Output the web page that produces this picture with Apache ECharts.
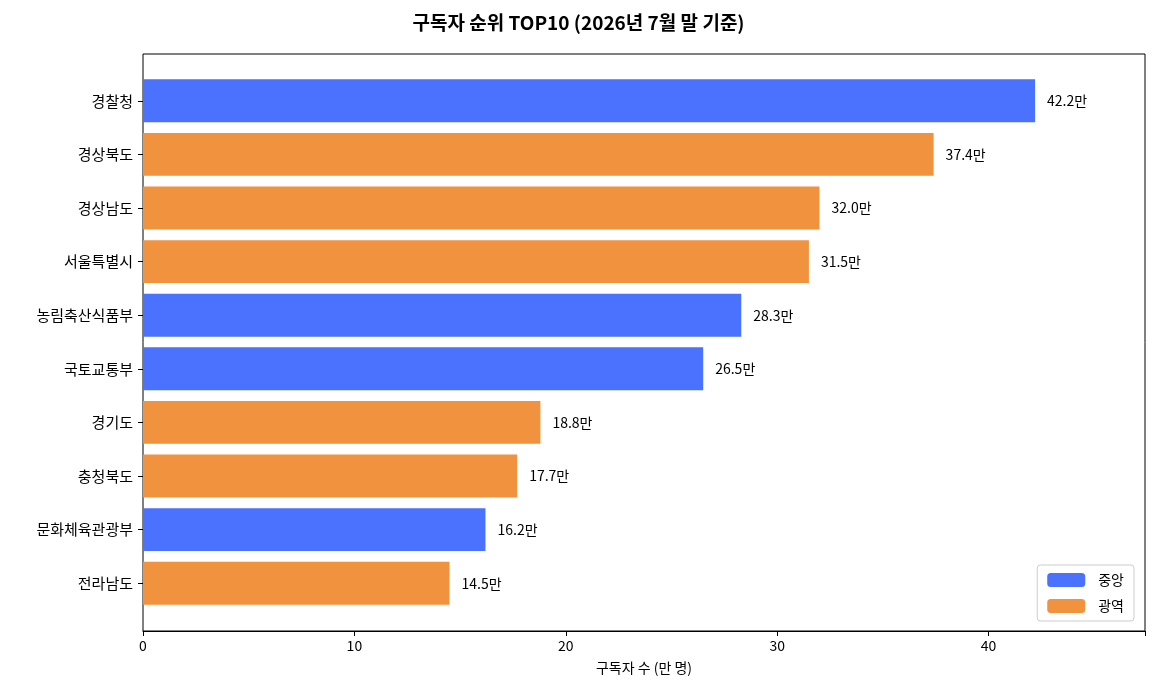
<!DOCTYPE html>
<html><head><meta charset="utf-8">
<script src="https://cdn.jsdelivr.net/npm/echarts@6/dist/echarts.min.js"></script>
<style>body{margin:0;background:#fff}#c{width:1157px;height:700px}</style>
</head><body><div id="c"></div>
<script>
// 데이터
const names = ['경찰청','경상북도','경상남도','서울특별시','농림축산식품부','국토교통부','경기도','충청북도','문화체육관광부','전라남도'];
const subs = [42.2,37.4,32.0,31.5,28.3,26.5,18.8,17.7,16.2,14.5];
const kinds = ['중앙','광역','광역','광역','중앙','중앙','광역','광역','중앙','광역'];
const xTicks = [0,10,20,30,40];

const font = '"Noto Sans CJK KR", sans-serif';
const chart = echarts.init(document.getElementById('c'));
const pick = k => subs.map((v, i) => kinds[i] === k ? v : null);
const lbl = {show: true, position: 'right', distance: 12, fontSize: 14, color: '#000', fontFamily: font, formatter: p => p.value.toFixed(1) + '만'};

chart.setOption({
    textStyle: {fontFamily: font},
    title: {text: '구독자 순위 TOP10 (2026년 7월 말 기준)', left: 'center', top: 8,
        textStyle: {fontSize: 19, fontWeight: 'bold', color: '#000', fontFamily: font}},
    legend: {right: 23, bottom: 79, orient: 'vertical', itemWidth: 38, itemHeight: 14, itemGap: 12,
        borderColor: '#ccc', borderWidth: 1, borderRadius: 3, padding: [8, 10],
        textStyle: {fontSize: 14, color: '#000', padding: [0, 0, 0, 8]}, data: ['중앙', '광역']},
    grid: [
        {left: 143, right: 12, top: 54, bottom: 69, show: true, borderColor: '#000', borderWidth: 1},
        {left: 143, right: 12, top: 74, bottom: 90}
    ],
    xAxis: [
        {gridIndex: 0, type: 'value', min: 0, max: 47.4, interval: 10,
            axisLabel: {fontSize: 14, color: '#000', formatter: v => xTicks.includes(v) ? v : ''},
            axisTick: {show: true, length: 5, lineStyle: {color: '#000'}},
            axisLine: {show: true, lineStyle: {color: '#000'}},
            splitLine: {show: false},
            name: '구독자 수 (만 명)', nameLocation: 'middle', nameGap: 30,
            nameTextStyle: {fontSize: 14, color: '#000'}},
        {gridIndex: 1, type: 'value', min: 0, max: 47.4, show: false}
    ],
    yAxis: [
        {gridIndex: 0, type: 'value', show: false},
        {gridIndex: 1, type: 'category', data: names, inverse: true,
            axisLabel: {fontSize: 15, color: '#000', margin: 10},
            axisTick: {show: true, alignWithLabel: true, length: 5, lineStyle: {color: '#000'}},
            axisLine: {show: false}}
    ],
    series: [
        {name: '중앙', type: 'bar', stack: 's', xAxisIndex: 1, yAxisIndex: 1, data: pick('중앙'),
            barWidth: '80%', itemStyle: {color: '#4A72FF'}, label: lbl},
        {name: '광역', type: 'bar', stack: 's', xAxisIndex: 1, yAxisIndex: 1, data: pick('광역'),
            barWidth: '80%', itemStyle: {color: '#F0923E'}, label: lbl}
    ]
});
</script>
</body></html>
